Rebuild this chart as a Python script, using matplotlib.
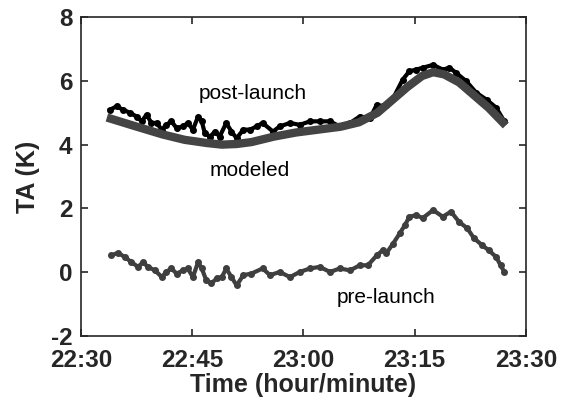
import matplotlib
matplotlib.use("Agg")
import matplotlib.pyplot as plt

# minutes after 22:30
post_t = [3.9, 4.8, 5.7, 6.6, 7.5, 8.2, 8.85, 9.5, 10.2, 10.9, 11.5, 12.2, 12.9, 13.8,
          14.4, 15.1, 15.8, 16.3, 16.7, 17.4, 18.1, 18.7, 19.6, 20.3, 21.0, 21.9, 22.8,
          23.7, 24.5, 25.9, 26.8, 28.2, 29.5, 30.9, 32.2, 33.6, 34.9, 36.3, 37.6, 39.0,
          39.9, 40.7, 41.2, 42.1, 43.4, 44.3, 45.2, 46.1, 47.5, 48.8, 49.7, 50.6, 52.0,
          53.3, 54.7, 56.0, 57.1]
post_v = [5.09, 5.2, 5.09, 5.0, 4.88, 4.73, 4.94, 4.68, 4.68, 4.47, 4.62, 4.73, 4.52, 4.57,
          4.68, 4.47, 4.88, 4.73, 4.36, 4.25, 4.41, 4.25, 4.68, 4.41, 4.2, 4.47, 4.47,
          4.57, 4.68, 4.41, 4.57, 4.68, 4.62, 4.73, 4.73, 4.73, 4.57, 4.68, 4.88, 4.84,
          5.25, 5.2, 5.25, 5.45, 6.04, 6.3, 6.35, 6.41, 6.5, 6.35, 6.41, 6.25, 5.98,
          5.63, 5.41, 5.16, 4.73]

model_t = [3.5, 7.0, 11.0, 14.0, 17.0, 19.0, 21.0, 23.0, 26.0, 29.0, 32.0, 35.0, 37.5,
           40.0, 42.0, 44.0, 46.0, 47.5, 49.0, 51.0, 53.0, 55.0, 57.3]
model_v = [4.85, 4.6, 4.32, 4.15, 4.05, 4.0, 4.02, 4.08, 4.25, 4.38, 4.47, 4.56, 4.7,
           5.0, 5.4, 5.8, 6.15, 6.27, 6.2, 5.95, 5.55, 5.15, 4.6]

pre_t = [4.1, 5.0, 5.9, 6.8, 7.7, 8.4, 9.0, 10.0, 10.9, 11.5, 12.2, 12.9, 13.8, 14.4,
         15.1, 15.8, 16.3, 16.9, 17.6, 18.3, 19.0, 19.6, 20.3, 21.0, 21.9, 23.0, 24.5,
         25.5, 26.8, 28.2, 29.5, 30.9, 32.2, 33.6, 34.9, 36.3, 37.6, 38.7, 39.9, 40.7,
         41.2, 42.1, 43.0, 43.7, 44.3, 45.2, 46.1, 47.5, 48.8, 49.9, 51.0, 52.1, 53.0,
         54.1, 55.0, 56.0, 56.6, 57.1]
pre_v = [0.53, 0.61, 0.48, 0.32, 0.17, 0.32, 0.17, 0.06, -0.15, 0.01, 0.12, -0.04, 0.06, 0.12,
         -0.15, 0.32, 0.12, -0.25, -0.35, -0.19, -0.15, 0.12, -0.15, -0.41, -0.09, -0.04, 0.12,
         -0.09, 0.01, -0.15, 0.01, 0.12, 0.17, 0.01, 0.12, 0.06, 0.22, 0.22, 0.53, 0.69,
         0.6, 0.9, 1.22, 1.48, 1.74, 1.79, 1.7, 1.95, 1.74, 1.9, 1.58, 1.38, 1.07,
         0.85, 0.69, 0.48, 0.22, 0.01]

xtick_pos = [0, 15, 30, 45, 60]
xtick_lab = ["22:30", "22:45", "23:00", "23:15", "23:30"]
ytick_pos = [-2, 0, 2, 4, 6, 8]

plt.rcParams["font.family"] = ["Liberation Sans", "DejaVu Sans"]
plt.rcParams["axes.unicode_minus"] = False
txt = "#262626"

fig = plt.figure(figsize=(5.66, 4.04), dpi=100)
ax = fig.add_axes([0.143, 0.168, 0.786, 0.79])

ax.plot(post_t, post_v, color="black", lw=3, marker="o", ms=4, zorder=2)
ax.plot(pre_t, pre_v, color="#3f3f3f", lw=3, marker="o", ms=4, zorder=2)
ax.plot(model_t, model_v, color="#444444", lw=6, solid_capstyle="butt", zorder=3)

ax.text(23.2, 5.6, "post-launch", ha="center", va="center", fontsize=15, color="black")
ax.text(22.8, 3.2, "modeled", ha="center", va="center", fontsize=15, color="black")
ax.text(41.2, -0.8, "pre-launch", ha="center", va="center", fontsize=15, color="black")

ax.set_xlim(0, 60)
ax.set_ylim(-2, 8)
ax.set_xticks(xtick_pos)
ax.set_xticklabels(xtick_lab)
ax.set_yticks(ytick_pos)
ax.tick_params(direction="in", top=True, right=True, length=5, width=1.2,
               colors=txt, labelsize=17.5)
ax.tick_params(axis="x", pad=9)
ax.tick_params(axis="y", pad=6)
for lab in ax.get_xticklabels() + ax.get_yticklabels():
    lab.set_fontweight("bold")
for s in ax.spines.values():
    s.set_linewidth(1.2)
    s.set_color(txt)

ax.set_xlabel("Time (hour/minute)", fontsize=18, fontweight="bold", color=txt, labelpad=1)
ax.set_ylabel("TA (K)", fontsize=18, fontweight="bold", color=txt, labelpad=8)

fig.savefig("out.png", dpi=100)
